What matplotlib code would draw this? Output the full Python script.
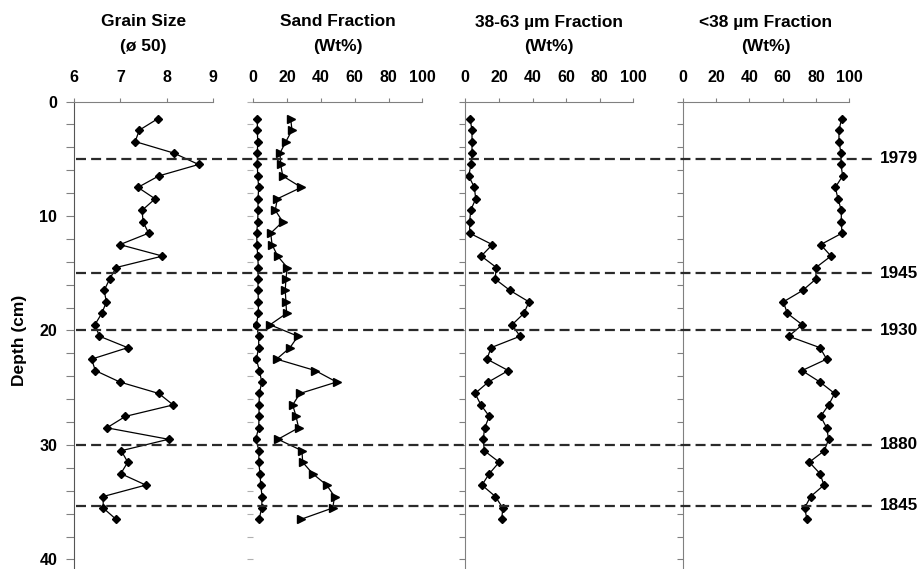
import matplotlib.pyplot as plt
from matplotlib.lines import Line2D
from matplotlib.transforms import blended_transform_factory

plt.rcParams['font.family'] = ['Liberation Sans', 'DejaVu Sans']
plt.rcParams['font.weight'] = 'bold'

# sample depths (cm)
depth = [1.5, 2.5, 3.5, 4.5, 5.5, 6.5, 7.5, 8.5, 9.5, 10.5, 11.5, 12.5,
         13.5, 14.5, 15.5, 16.5, 17.5, 18.5, 19.5, 20.5, 21.5, 22.5, 23.5, 24.5,
         25.5, 26.5, 27.5, 28.5, 29.5, 30.5, 31.5, 32.5, 33.5, 34.5, 35.5, 36.5]

grain = [7.81, 7.41, 7.32, 8.15, 8.69, 7.83, 7.38, 7.75, 7.47, 7.49, 7.61, 6.99,
         7.91, 6.91, 6.77, 6.65, 6.70, 6.60, 6.45, 6.55, 7.16, 6.38, 6.46, 6.99,
         7.83, 8.14, 7.11, 6.71, 8.04, 7.02, 7.16, 7.01, 7.55, 6.63, 6.63, 6.91]

sand = [2.4, 2.4, 2.6, 2.4, 2.4, 2.6, 3.2, 2.8, 2.8, 2.6, 2.0, 2.2,
        2.6, 3.0, 2.8, 2.8, 3.0, 3.0, 1.8, 3.2, 3.2, 1.8, 3.6, 5.0,
        3.6, 3.4, 3.4, 3.2, 1.4, 3.4, 3.2, 4.0, 4.4, 5.2, 5.0, 3.4]

sand_b = [22.1, 22.9, 19.3, 15.8, 16.2, 17.4, 28.4, 14.2, 13.0, 17.4, 10.3, 11.1,
          14.4, 20.1, 19.3, 18.9, 19.3, 19.7, 9.9, 26.4, 21.7, 13.8, 36.7, 49.3,
          27.6, 23.3, 25.3, 26.8, 14.6, 28.8, 29.2, 35.1, 43.4, 48.1, 47.0, 28.0]

mid = [2.8, 4.0, 4.0, 4.0, 3.4, 2.0, 5.4, 6.2, 3.2, 2.6, 2.6, 16.1,
       9.5, 18.5, 17.7, 26.6, 37.9, 34.9, 27.8, 32.6, 15.3, 12.9, 25.6, 13.7,
       5.8, 9.3, 14.3, 11.5, 10.7, 11.3, 20.2, 14.3, 9.9, 17.9, 22.3, 21.7]

fine = [95.4, 93.8, 93.8, 95.0, 95.0, 96.0, 91.6, 93.2, 95.2, 95.2, 95.6, 82.8,
        89.0, 80.0, 80.0, 72.0, 60.4, 62.8, 71.8, 63.6, 82.4, 86.4, 71.6, 82.4,
        91.2, 87.6, 82.8, 86.4, 87.6, 85.0, 76.0, 82.4, 84.8, 76.8, 73.2, 74.6]

date_depth = [5, 15, 20, 30, 35.3]
date_labels = ['1979', '1945', '1930', '1880', '1845']

titles = [('Grain Size', '(\u00f8 50)'), ('Sand Fraction', '(Wt%)'),
          ('38-63 \u00b5m Fraction', '(Wt%)'), ('<38 \u00b5m Fraction', '(Wt%)')]

W, H = 923, 569
top = 1 - 101.5 / H
fig = plt.figure(figsize=(W / 100, H / 100), dpi=100)

# panel extents in pixels (left, right)
extents = [(74, 213), (253.3, 422.3), (465.3, 633.3), (682.7, 849.3)]
axes = []
for (x0, x1) in extents:
    ax = fig.add_axes([x0 / W, 0, (x1 - x0) / W, top])
    axes.append(ax)

gray = '#808080'
for i, ax in enumerate(axes):
    ax.set_ylim(40.83, 0)
    ax.spines['right'].set_visible(False)
    ax.spines['bottom'].set_visible(False)
    ax.spines['top'].set_color(gray)
    ax.spines['left'].set_color(gray)
    ax.xaxis.set_ticks_position('top')
    ax.tick_params(axis='x', direction='out', length=3, width=0.8, color=gray,
                   pad=9, labelsize=11.5)
    ax.set_yticks([0, 10, 20, 30, 40])
    ax.set_yticks(range(0, 41, 2), minor=True)
    ax.tick_params(axis='y', which='both', direction='out', color=gray,
                   length=4, width=0.8, labelleft=False)
    ax.patch.set_visible(False)
    ax.text(0.5, 1 + 79.5 / 467.5, titles[i][0], transform=ax.transAxes,
            ha='center', va='center', fontsize=12.5, fontweight='bold')
    ax.text(0.5, 1 + 54.5 / 467.5, titles[i][1], transform=ax.transAxes,
            ha='center', va='center', fontsize=12.5, fontweight='bold')

ax1, ax2, ax3, ax4 = axes
ax1.set_xlim(6, 9)
ax1.set_xticks([6, 7, 8, 9])
ax1.tick_params(axis='y', which='both', length=6, labelleft=True, labelsize=11.5, pad=6)
ax1.spines['left'].set_color('#555555')

for ax in (ax2, ax3, ax4):
    ax.set_xlim(0, 100)
    ax.set_xticks([0, 20, 40, 60, 80, 100])
ax2.spines['left'].set_visible(False)
ax2.tick_params(axis='y', which='both', color='#b0b0b0')

lw = 0.9
ax1.plot(grain, depth, '-D', color='black', lw=lw, ms=3.8)
ax2.plot(sand, depth, '-D', color='black', lw=lw, ms=3.8)
ax2.plot(sand_b, depth, '->', color='black', lw=lw, ms=5.5)
ax3.plot(mid, depth, '-D', color='black', lw=lw, ms=3.8)
ax4.plot(fine, depth, '-D', color='black', lw=lw, ms=3.8)

fig.text(20 / W, 1 - 340 / H, 'Depth (cm)', rotation=90, ha='center', va='center',
         fontsize=12.5, fontweight='bold')

# dated horizons across all panels
tr = blended_transform_factory(fig.transFigure, ax1.transData)
for d, lab in zip(date_depth, date_labels):
    fig.add_artist(Line2D([76 / W, 875 / W], [d, d], transform=tr, color='#2a2a2a',
                          lw=1.6, ls=(0, (4.5, 2.3))))
    fig.text(880 / W, d, lab, transform=tr, ha='left', va='center', fontsize=12.3,
             fontweight='bold')

fig.savefig('out.png', dpi=100)
